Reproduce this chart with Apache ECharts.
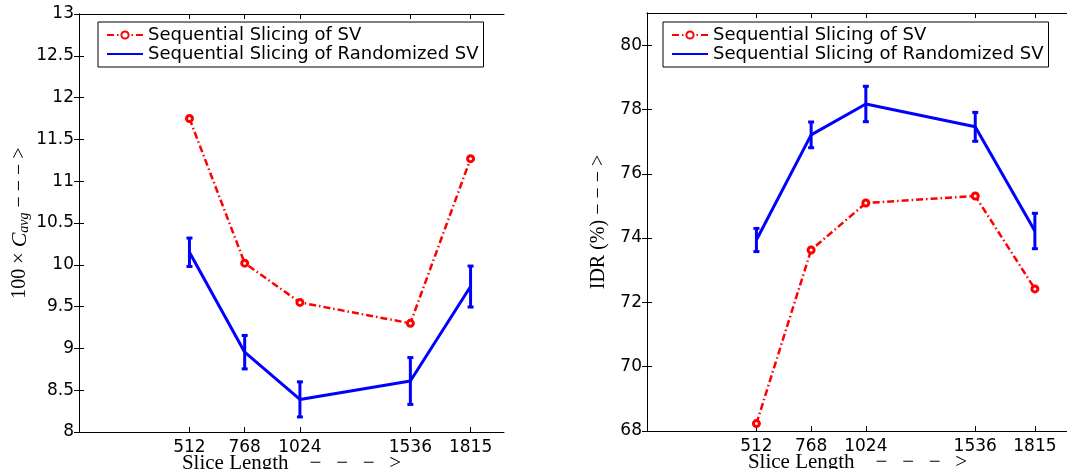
<!DOCTYPE html>
<html>
<head>
<meta charset="utf-8">
<script src="https://cdn.jsdelivr.net/npm/echarts@6/dist/echarts.min.js"></script>
<style>html,body{margin:0;padding:0;background:#fff;}#c{width:1067px;height:469px;}</style>
</head>
<body>
<div id="c"></div>
<script>
// ---- data ----
const xTicks = [512, 768, 1024, 1536, 1815];
const sliceLengths = [512, 768, 1024, 1536, 1815];
const seriesNames = ['Sequential Slicing of SV', 'Sequential Slicing of Randomized SV'];
const cavgSV = [11.75, 10.02, 9.55, 9.30, 11.27];
const cavgRand = [10.15, 8.955, 8.39, 8.61, 9.74];
const cavgRandErr = [0.17, 0.20, 0.21, 0.28, 0.245];
const idrSV = [68.23, 73.63, 75.09, 75.31, 72.42];
const idrRand = [73.94, 77.21, 78.17, 77.46, 74.22];
const idrRandErr = [0.36, 0.40, 0.55, 0.45, 0.55];
const idrTicks = [68, 70, 72, 74, 76, 78, 80];

// ---- styling ----
const FONT = 'DejaVu Sans';
const SERIF = 'Liberation Serif';
const RED = '#ff0000';
const BLUE = '#0000ff';
const xName = 'Slice Length\u2003\u2212\u2002\u2009\u2212\u2002\u2009\u2212\u2002\u2009>';

function pairs(xs, ys) { return xs.map((x, i) => [x, ys[i]]); }
function triples(xs, ys, es) { return xs.map((x, i) => [x, ys[i], es[i]]); }

function errRender(params, api) {
  const x = api.value(0), y = api.value(1), e = api.value(2);
  const top = api.coord([x, y + e]);
  const bot = api.coord([x, y - e]);
  const w = 3;
  const st = { stroke: BLUE, lineWidth: 3 };
  return {
    type: 'group',
    children: [
      { type: 'line', shape: { x1: top[0], y1: top[1], x2: bot[0], y2: bot[1] }, style: st },
      { type: 'line', shape: { x1: top[0] - w, y1: top[1], x2: top[0] + w, y2: top[1] }, style: st },
      { type: 'line', shape: { x1: bot[0] - w, y1: bot[1], x2: bot[0] + w, y2: bot[1] }, style: st }
    ]
  };
}

const axLine = { show: true, lineStyle: { color: '#000', width: 1 } };
const plain = v => String(v);

function xAxes(gi) {
  return [
    {
      gridIndex: gi, type: 'value', min: 0, max: 1970, position: 'bottom',
      axisLine: axLine,
      axisTick: { show: true, inside: true, length: 5, customValues: xTicks, lineStyle: { color: '#000' } },
      axisLabel: { customValues: xTicks, formatter: plain, fontSize: 17, fontFamily: FONT, color: '#000', margin: 7 },
      splitLine: { show: false },
      name: xName, nameLocation: 'middle', nameGap: 21, nameMoveOverlap: false,
      nameTextStyle: { fontSize: 21, fontFamily: SERIF, color: '#000' }
    },
    {
      gridIndex: gi, type: 'value', min: 0, max: 1970, position: 'top',
      axisLine: axLine,
      axisTick: { show: true, inside: true, length: 5, customValues: xTicks, lineStyle: { color: '#000' } },
      axisLabel: { show: false },
      splitLine: { show: false }
    }
  ];
}

const option = {
  animation: false,
  backgroundColor: '#fff',
  grid: [
    { left: 79, top: 14, width: 425, height: 418, outerBoundsMode: 'none', containLabel: false },
    { left: 647, top: 13, width: 421, height: 418, outerBoundsMode: 'none', containLabel: false }
  ],
  legend: [0, 1].map(i => ({
    orient: 'vertical',
    left: i === 0 ? 98 : 663,
    top: 22,
    data: [
      { name: seriesNames[0] },
      { name: seriesNames[1], itemStyle: { opacity: 0 } }
    ],
    backgroundColor: '#fff',
    borderColor: '#000',
    borderWidth: 1,
    padding: [4, 5, 4, 8],
    itemGap: 1,
    itemWidth: 36,
    itemHeight: 9,
    textStyle: { fontSize: 18, fontFamily: FONT, color: '#000' },
    selectedMode: false
  })),
  xAxis: [...xAxes(0), ...xAxes(1)],
  yAxis: [
    {
      gridIndex: 0, type: 'value', min: 8, max: 13, interval: 0.5, position: 'left',
      axisLine: axLine,
      axisTick: { show: true, inside: true, length: 5, lineStyle: { color: '#000' } },
      axisLabel: { fontSize: 17, fontFamily: FONT, color: '#000', margin: 5 },
      splitLine: { show: false },
      name: '100 \u00d7 {c|C}{s|avg} \u2212 \u2212 \u2212 >',
      nameLocation: 'middle', nameGap: 48, nameRotate: 90,
      nameTextStyle: {
        fontSize: 20, fontFamily: SERIF, color: '#000', lineHeight: 22,
        rich: {
          c: { fontSize: 22, fontFamily: SERIF, fontStyle: 'italic', color: '#000', lineHeight: 22 },
          s: { fontSize: 14, fontFamily: SERIF, fontStyle: 'italic', color: '#000', lineHeight: 10, verticalAlign: 'bottom' }
        }
      }
    },
    {
      gridIndex: 0, type: 'value', min: 8, max: 13, interval: 0.5, position: 'right',
      axisLine: axLine,
      axisTick: { show: true, inside: true, length: 5, lineStyle: { color: '#000' } },
      axisLabel: { show: false },
      splitLine: { show: false }
    },
    {
      gridIndex: 1, type: 'value', min: 68, max: 81, position: 'left',
      axisLine: axLine,
      axisTick: { show: true, inside: true, length: 5, customValues: idrTicks, lineStyle: { color: '#000' } },
      axisLabel: { customValues: idrTicks, formatter: plain, fontSize: 17, fontFamily: FONT, color: '#000', margin: 5 },
      splitLine: { show: false },
      name: 'IDR (%) \u2212 \u2212 \u2212 >',
      nameLocation: 'middle', nameGap: 38, nameRotate: 90,
      nameTextStyle: { fontSize: 20, fontFamily: SERIF, color: '#000' }
    },
    {
      gridIndex: 1, type: 'value', min: 68, max: 81, position: 'right',
      axisLine: axLine,
      axisTick: { show: true, inside: true, length: 5, customValues: idrTicks, lineStyle: { color: '#000' } },
      axisLabel: { show: false },
      splitLine: { show: false }
    }
  ],
  series: [
    {
      name: seriesNames[0], type: 'line', xAxisIndex: 0, yAxisIndex: 0,
      data: pairs(sliceLengths, cavgSV),
      symbol: 'circle', symbolSize: 6, showSymbol: true,
      lineStyle: { color: RED, width: 2.5, type: [7, 3, 1.5, 3] },
      itemStyle: { color: '#fff', borderColor: RED, borderWidth: 3 },
      z: 3
    },
    {
      name: seriesNames[1], type: 'line', xAxisIndex: 0, yAxisIndex: 0,
      data: pairs(sliceLengths, cavgRand),
      showSymbol: false, symbol: 'none',
      lineStyle: { color: BLUE, width: 3 },
      itemStyle: { color: BLUE },
      z: 2
    },
    {
      type: 'custom', xAxisIndex: 0, yAxisIndex: 0,
      data: triples(sliceLengths, cavgRand, cavgRandErr),
      renderItem: errRender, z: 2
    },
    {
      name: seriesNames[0], type: 'line', xAxisIndex: 2, yAxisIndex: 2,
      data: pairs(sliceLengths, idrSV),
      symbol: 'circle', symbolSize: 6, showSymbol: true,
      lineStyle: { color: RED, width: 2.5, type: [7, 3, 1.5, 3] },
      itemStyle: { color: '#fff', borderColor: RED, borderWidth: 3 },
      z: 3
    },
    {
      name: seriesNames[1], type: 'line', xAxisIndex: 2, yAxisIndex: 2,
      data: pairs(sliceLengths, idrRand),
      showSymbol: false, symbol: 'none',
      lineStyle: { color: BLUE, width: 3 },
      itemStyle: { color: BLUE },
      z: 2
    },
    {
      type: 'custom', xAxisIndex: 2, yAxisIndex: 2,
      data: triples(sliceLengths, idrRand, idrRandErr),
      renderItem: errRender, z: 2
    }
  ]
};

const chart = echarts.init(document.getElementById('c'), null, { renderer: 'canvas' });
chart.setOption(option);
</script>
</body>
</html>
